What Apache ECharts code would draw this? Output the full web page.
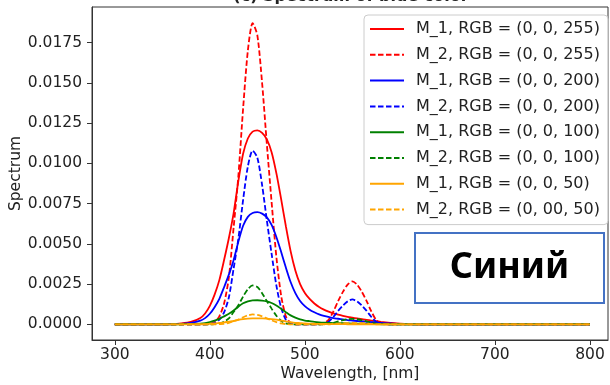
<!DOCTYPE html>
<html>
<head>
<meta charset="utf-8">
<script src="https://cdn.jsdelivr.net/npm/echarts@6/dist/echarts.min.js"></script>
<style>
  html, body { margin: 0; padding: 0; background: #fff; }
  #chart { width: 610px; height: 385px; }
</style>
</head>
<body>
<div id="chart"></div>
<script>
// Wavelength samples (nm) shared by all spectra
const wavelength = [300, 340, 360, 370, 380, 390, 395, 400, 405, 410, 415, 420, 425, 430, 435, 440, 445, 450, 455, 460,
  465, 470, 475, 480, 485, 490, 495, 500, 505, 510, 515, 520, 525, 530, 535, 540, 545, 550, 555, 560,
  565, 570, 575, 580, 590, 600, 620, 650, 700, 800];

// M_1 spectra
const m1_255 = [0, 0, 0.00002, 0.00006, 0.00015, 0.00040, 0.00068, 0.00115, 0.00185, 0.00275, 0.00400, 0.00535, 0.00690, 0.00890, 0.01060, 0.01155, 0.01198, 0.01206, 0.01190, 0.01150,
  0.01070, 0.00940, 0.00780, 0.00610, 0.00455, 0.00335, 0.00250, 0.00195, 0.00158, 0.00130, 0.00108, 0.00092, 0.00079, 0.00068, 0.00060, 0.00053, 0.00047, 0.00042, 0.00037, 0.00032,
  0.00028, 0.00024, 0.00020, 0.00016, 0.00010, 0.00005, 0.00001, 0, 0, 0];
const m1_200 = [0, 0, 0.00001, 0.00003, 0.00009, 0.00023, 0.00039, 0.00066, 0.00107, 0.00159, 0.00231, 0.00309, 0.00399, 0.00514, 0.00613, 0.00668, 0.00692, 0.00697, 0.00688, 0.00665,
  0.00618, 0.00543, 0.00451, 0.00353, 0.00263, 0.00194, 0.00145, 0.00113, 0.00091, 0.00075, 0.00062, 0.00053, 0.00046, 0.00039, 0.00035, 0.00031, 0.00027, 0.00024, 0.00021, 0.00018,
  0.00016, 0.00014, 0.00012, 0.00009, 0.00006, 0.00003, 0.00001, 0, 0, 0];
const m1_100 = [0, 0, 0, 0.00001, 0.00002, 0.00005, 0.00008, 0.00014, 0.00023, 0.00034, 0.00050, 0.00066, 0.00086, 0.00110, 0.00131, 0.00143, 0.00149, 0.00150, 0.00148, 0.00143,
  0.00133, 0.00117, 0.00097, 0.00076, 0.00056, 0.00042, 0.00031, 0.00024, 0.00020, 0.00016, 0.00013, 0.00011, 0.00010, 0.00008, 0.00007, 0.00007, 0.00006, 0.00005, 0.00005, 0.00004,
  0.00003, 0.00003, 0.00002, 0.00002, 0.00001, 0.00001, 0, 0, 0, 0];
const m1_50 = [0, 0, 0, 0, 0.00001, 0.00001, 0.00002, 0.00004, 0.00006, 0.00009, 0.00012, 0.00017, 0.00021, 0.00028, 0.00033, 0.00036, 0.00037, 0.00037, 0.00037, 0.00036,
  0.00033, 0.00029, 0.00024, 0.00019, 0.00014, 0.00010, 0.00008, 0.00006, 0.00005, 0.00004, 0.00003, 0.00003, 0.00002, 0.00002, 0.00002, 0.00002, 0.00001, 0.00001, 0.00001, 0.00001,
  0.00001, 0.00001, 0, 0, 0, 0, 0, 0, 0, 0];

// M_2 spectra
const m2_255 = [0, 0, 0, 0, 0, 0, 0, 0.00003, 0.00015, 0.00050, 0.00130, 0.00290, 0.00600, 0.00920, 0.01340, 0.01700, 0.01872, 0.01796, 0.01500, 0.01120,
  0.00760, 0.00420, 0.00180, 0.00050, 0.00008, 0, 0, 0, 0, 0, 0, 0.00008, 0.00028, 0.00080, 0.00145, 0.00202, 0.00247, 0.00267, 0.00247, 0.00202,
  0.00145, 0.00080, 0.00028, 0.00008, 0, 0, 0, 0, 0, 0];
const m2_200 = [0, 0, 0, 0, 0, 0, 0, 0.00002, 0.00009, 0.00029, 0.00075, 0.00167, 0.00346, 0.00531, 0.00773, 0.00981, 0.01080, 0.01036, 0.00866, 0.00646,
  0.00439, 0.00242, 0.00104, 0.00029, 0.00005, 0, 0, 0, 0, 0, 0, 0.00005, 0.00016, 0.00046, 0.00084, 0.00117, 0.00143, 0.00155, 0.00143, 0.00117,
  0.00084, 0.00046, 0.00016, 0.00005, 0, 0, 0, 0, 0, 0];
const m2_100 = [0, 0, 0, 0, 0, 0, 0, 0, 0.00002, 0.00006, 0.00017, 0.00037, 0.00077, 0.00119, 0.00173, 0.00219, 0.00242, 0.00232, 0.00194, 0.00145,
  0.00098, 0.00054, 0.00023, 0.00006, 0.00001, 0, 0, 0, 0, 0, 0, 0.00001, 0.00004, 0.00010, 0.00019, 0.00026, 0.00032, 0.00034, 0.00032, 0.00026,
  0.00019, 0.00010, 0.00004, 0.00001, 0, 0, 0, 0, 0, 0];
const m2_50 = [0, 0, 0, 0, 0, 0, 0, 0, 0, 0.00002, 0.00004, 0.00010, 0.00020, 0.00030, 0.00044, 0.00056, 0.00062, 0.00059, 0.00050, 0.00037,
  0.00025, 0.00014, 0.00006, 0.00002, 0, 0, 0, 0, 0, 0, 0, 0, 0, 0.00003, 0.00005, 0.00007, 0.00008, 0.00009, 0.00008, 0.00007,
  0.00005, 0.00003, 0, 0, 0, 0, 0, 0, 0, 0];

// Axis ticks
const xTicks = [300, 400, 500, 600, 700, 800];
const yTicks = [0, 0.0025, 0.005, 0.0075, 0.01, 0.0125, 0.015, 0.0175];

const seriesDefs = [
  { name: 'M_1, RGB = (0, 0, 255)', values: m1_255, color: '#ff0000', dashed: false },
  { name: 'M_2, RGB = (0, 0, 255)', values: m2_255, color: '#ff0000', dashed: true },
  { name: 'M_1, RGB = (0, 0, 200)', values: m1_200, color: '#0000ff', dashed: false },
  { name: 'M_2, RGB = (0, 0, 200)', values: m2_200, color: '#0000ff', dashed: true },
  { name: 'M_1, RGB = (0, 0, 100)', values: m1_100, color: '#008000', dashed: false },
  { name: 'M_2, RGB = (0, 0, 100)', values: m2_100, color: '#008000', dashed: true },
  { name: 'M_1, RGB = (0, 0, 50)',  values: m1_50,  color: '#ffa500', dashed: false },
  { name: 'M_2, RGB = (0, 00, 50)', values: m2_50,  color: '#ffa500', dashed: true }
];

const FONT = 'DejaVu Sans';
const chart = echarts.init(document.getElementById('chart'), null, { renderer: 'canvas' });

chart.setOption({
  animation: false,
  backgroundColor: '#ffffff',
  grid: {
    left: 92, top: 7, right: 2, bottom: 45,
    outerBoundsMode: 'none', containLabel: false,
    show: true, borderColor: '#333', borderWidth: 1, backgroundColor: 'transparent'
  },
  xAxis: {
    type: 'value', min: 276, max: 819,
    name: 'Wavelength, [nm]', nameLocation: 'middle', nameGap: 26, nameMoveOverlap: false,
    nameTextStyle: { fontFamily: FONT, fontSize: 15.5, color: '#222' },
    axisLine: { show: true, onZero: false, lineStyle: { color: '#333', width: 1 } },
    axisTick: { show: true, customValues: xTicks, length: 5, lineStyle: { color: '#333' } },
    axisLabel: { customValues: xTicks, margin: 7, fontFamily: FONT, fontSize: 15.5, color: '#222' },
    splitLine: { show: false }
  },
  yAxis: {
    type: 'value', min: -0.00097, max: 0.01972,
    name: 'Spectrum', nameLocation: 'middle', nameGap: 68, nameMoveOverlap: false,
    nameTextStyle: { fontFamily: FONT, fontSize: 15.5, color: '#222' },
    axisLine: { show: true, onZero: false, lineStyle: { color: '#333', width: 1 } },
    axisTick: { show: true, customValues: yTicks, length: 5, lineStyle: { color: '#333' } },
    axisLabel: {
      customValues: yTicks, margin: 10, fontFamily: FONT, fontSize: 15.5, color: '#222',
      formatter: v => Number(v).toFixed(4)
    },
    splitLine: { show: false }
  },
  legend: {
    orient: 'vertical', left: 364, top: 15,
    padding: [6, 8, 7, 5], itemGap: 9.8, itemWidth: 34, itemHeight: 14,
    backgroundColor: 'rgba(255,255,255,0.85)', borderColor: '#cccccc', borderWidth: 1, borderRadius: 4,
    itemStyle: { opacity: 0, borderWidth: 0 },
    textStyle: { fontFamily: FONT, fontSize: 16, color: '#222', padding: [0, 0, 0, 7] },
    data: seriesDefs.map(d => d.name)
  },
  graphic: [
    {
      type: 'text', x: 351, y: 5,
      style: { text: '(c) Spectrum of blue color', font: 'bold 16px "DejaVu Sans"', fill: '#222', textAlign: 'center', textVerticalAlign: 'bottom' },
      z: 100
    },
    {
      type: 'group', z: 100,
      children: [
        { type: 'rect', shape: { x: 415, y: 233, width: 189, height: 70 }, style: { fill: '#ffffff', stroke: '#4472C4', lineWidth: 2 } },
        { type: 'text', x: 509.5, y: 268, style: { text: 'Синий', font: 'bold 36px "Noto Sans"', fill: '#000', textAlign: 'center', textVerticalAlign: 'middle' } }
      ]
    }
  ],
  series: seriesDefs.map(d => ({
    name: d.name,
    type: 'line',
    data: wavelength.map((w, i) => [w, d.values[i]]),
    showSymbol: false,
    symbol: 'none',
    smooth: 0.25,
    clip: true,
    color: d.color,
    lineStyle: { color: d.color, width: 1.8, type: d.dashed ? [5.5, 2.5] : 'solid' }
  }))
});
</script>
</body>
</html>
